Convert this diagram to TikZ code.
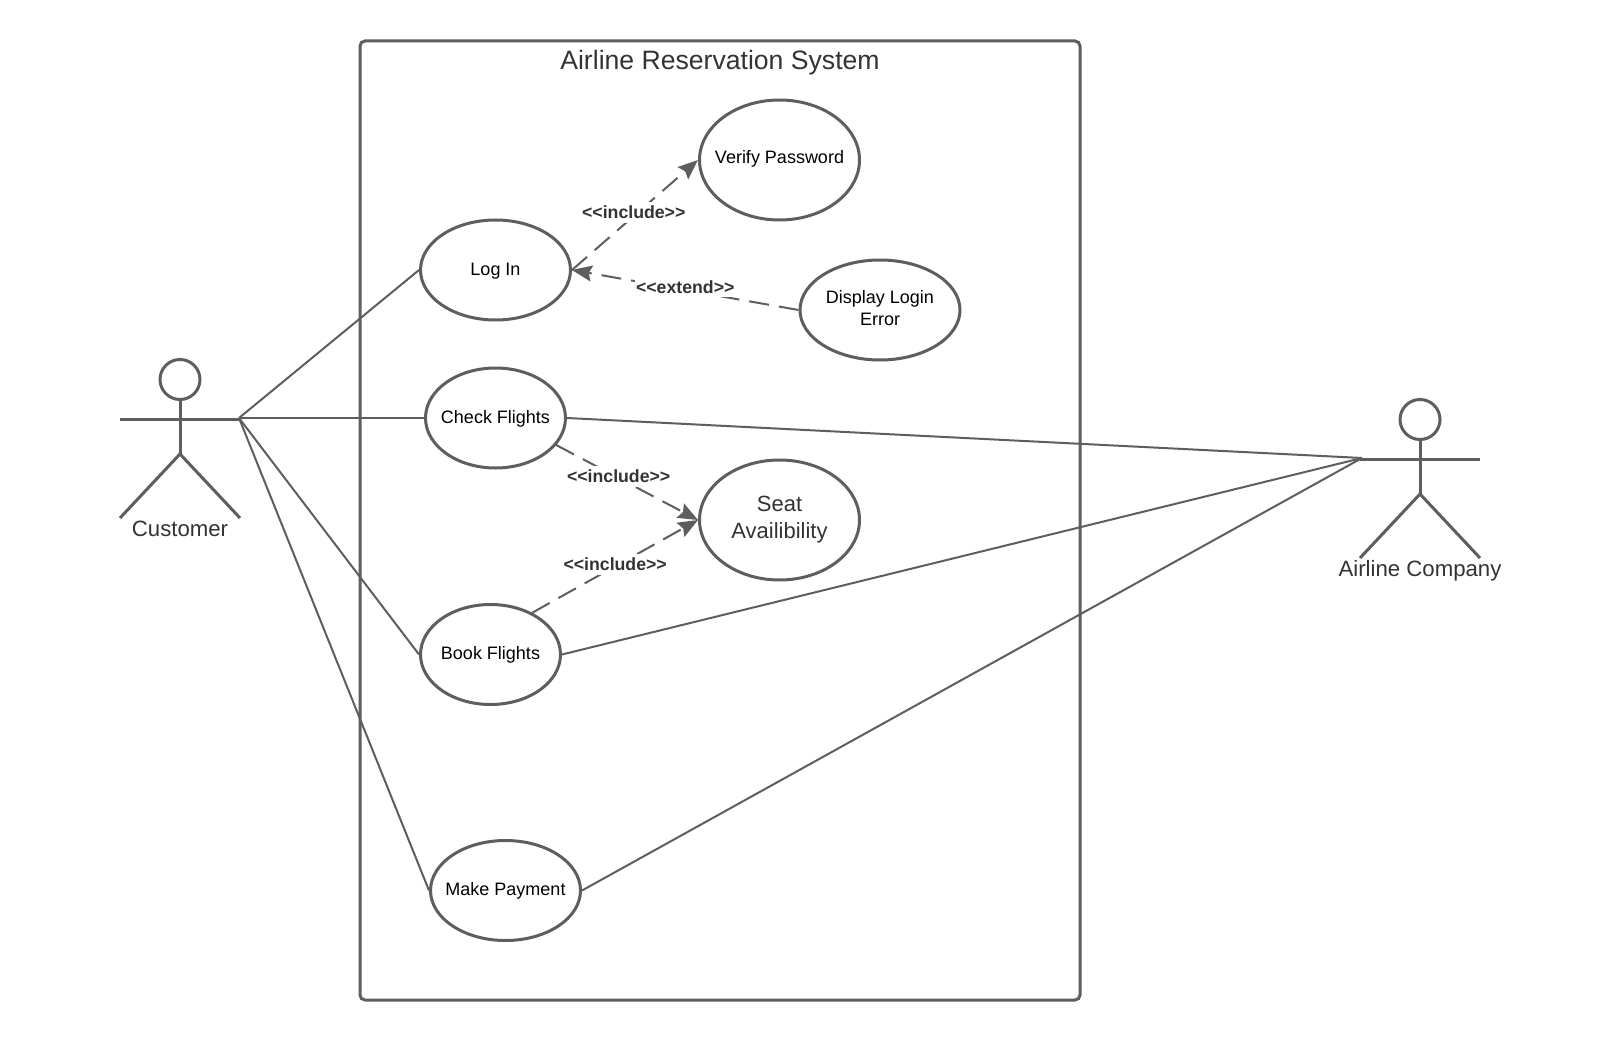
\documentclass[tikz,border=0pt]{standalone}
\usepackage{fontspec}
\setmainfont{Liberation Sans}
\usetikzlibrary{shapes.geometric,arrows.meta}
\definecolor{ln}{HTML}{5E5E5E}
\definecolor{tx}{HTML}{333333}
\newcommand{\fsz}[2]{\fontsize{#1pt}{#2pt}\selectfont}
\tikzset{
  uc/.style={ellipse,draw=ln,line width=3pt,fill=white,inner ysep=-10pt,inner xsep=-35pt,align=center,text=black,font=\fsz{18}{21.5}},
  assoc/.style={draw=ln,line width=2pt},
  dep/.style={draw=ln,line width=2pt,dash pattern=on 20pt off 10pt,-{Stealth[length=20pt,width=16pt,inset=3pt]}},
  deplabel/.style={fill=white,inner xsep=1pt,inner ysep=4pt,text=tx,font=\fsz{17.7}{20}\bfseries},
  actorline/.style={draw=ln,line width=3pt},
  actorlabel/.style={text=tx,font=\fsz{22.2}{26},inner sep=0pt},
  sys/.style={draw=ln,line width=3pt,rounded corners=5pt},
}
\begin{document}
\begin{tikzpicture}[x=1pt,y=-1pt]
\useasboundingbox (0,0) rectangle (1600,1040);
\fill[white] (0,0) rectangle (1600,1040);
\node[sys,minimum width=720pt,minimum height=959pt,inner sep=0pt] (system) at (720,520.5) {};
\node[text=tx,font=\fsz{26.6}{30},inner sep=0pt] (title) at (720,62.5) {Airline Reservation System};

% Actors
\node[circle,draw=ln,line width=3pt,minimum size=40pt,inner sep=0pt] (custhead) at (180,379.5) {};
\coordinate (custhandL) at (120,419.5);
\coordinate (custhandR) at (240,419.5);
\coordinate (custhip) at (180,454);
\coordinate (custfootL) at (120,518);
\coordinate (custfootR) at (240,518);
\coordinate (custjoin) at (239,418);
\draw[actorline] (custhandL) -- (custhandR);
\draw[actorline] (custhead) -- (custhip);
\draw[actorline] (custfootL) -- (custhip) -- (custfootR);
\node[actorlabel] (custlabel) at (180,529) {Customer};

\node[circle,draw=ln,line width=3pt,minimum size=40pt,inner sep=0pt] (airhead) at (1420,419.5) {};
\coordinate (airhandL) at (1360,459.5);
\coordinate (airhandR) at (1480,459.5);
\coordinate (airhip) at (1420,494);
\coordinate (airfootL) at (1360,558);
\coordinate (airfootR) at (1480,558);
\coordinate (airjoin) at (1362,458);
\draw[actorline] (airhandL) -- (airhandR);
\draw[actorline] (airhead) -- (airhip);
\draw[actorline] (airfootL) -- (airhip) -- (airfootR);
\node[actorlabel] (airlabel) at (1420,571) {Airline Company};

% Use cases
\node[uc,minimum width=160pt,minimum height=120pt,text depth=6pt] (verify) at (779.5,160) {Verify Password};
\node[uc,minimum width=150pt,minimum height=100pt,text height=15pt] (login) at (495.5,270) {Log In};
\node[uc,minimum width=160pt,minimum height=100pt,text depth=4pt] (display) at (880,310) {Display Login\\Error};
\node[uc,minimum width=140pt,minimum height=100pt,text height=15pt] (check) at (495.5,418) {Check Flights};
\node[uc,minimum width=160pt,minimum height=120pt,text=tx,font=\fsz{22}{27}] (seat) at (779.5,520) {Seat\\Availibility};
\node[uc,minimum width=140pt,minimum height=100pt] (book) at (490.5,654.5) {Book Flights};
\node[uc,minimum width=150pt,minimum height=100pt] (payment) at (505.5,890.5) {Make Payment};

% Associations
\draw[assoc] (custjoin) -- (login.west);
\draw[assoc] (custjoin) -- (check.west);
\draw[assoc] (custjoin) -- (book.west);
\draw[assoc] (custjoin) -- (payment.west);
\draw[assoc] (check.east) -- (airjoin);
\draw[assoc] (book.east) -- (airjoin);
\draw[assoc] (payment.east) -- (airjoin);

% Dependencies
\draw[dep] (login.east) -- node[deplabel,pos=0.49,yshift=4pt] (l1) {{<}{<}include{>}{>}} (verify.west);
\draw[dep] (display.west) -- node[deplabel,pos=0.50,yshift=3pt] (l2) {{<}{<}extend{>}{>}} (login.east);
\draw[dep] (check.-24.4) -- node[deplabel,pos=0.44,yshift=2pt] (l3) {{<}{<}include{>}{>}} (seat.west);
\draw[dep] (book.45.7) -- node[deplabel,pos=0.50,yshift=2pt] (l4) {{<}{<}include{>}{>}} (seat.west);
\end{tikzpicture}
\end{document}
